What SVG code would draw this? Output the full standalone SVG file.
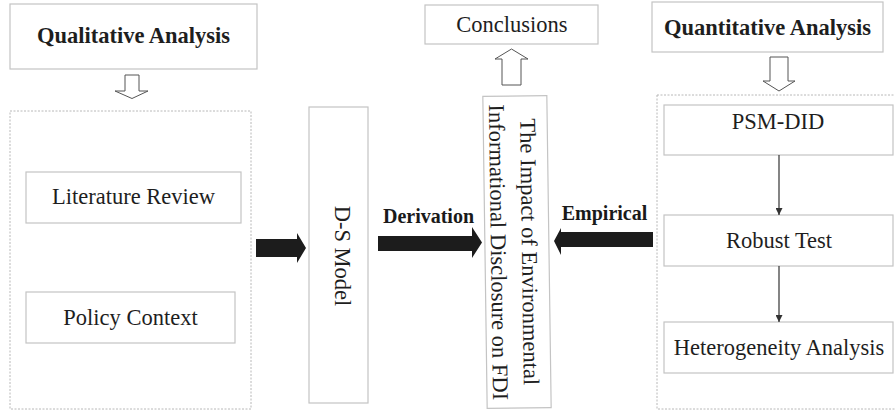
<svg xmlns="http://www.w3.org/2000/svg" width="895" height="412" viewBox="0 0 895 412">
<style>
.box{fill:#fff;stroke:#c4c4c4;stroke-width:1.2}
.cont{fill:none;stroke:#b8b8b8;stroke-width:1;stroke-dasharray:2 1.5}
.t{font-family:'Liberation Serif','Times New Roman',serif;font-size:22.5px;fill:#1e1e1e;text-anchor:middle}
.b{font-weight:bold}
.lbl{font-family:'Liberation Serif','Times New Roman',serif;font-size:20px;font-weight:bold;fill:#1a1a1a;text-anchor:middle}
.hollow{fill:#fff;stroke:#555;stroke-width:1}
.solid{fill:#1c1c1c;stroke:none}
.thin{stroke:#333;stroke-width:1.2;fill:none;marker-end:url(#ah)}
</style>
<defs>
<marker id="ah" viewBox="0 0 10 10" refX="10" refY="5" markerWidth="7" markerHeight="7" markerUnits="userSpaceOnUse" orient="auto">
<path d="M0,0 L10,5 L0,10 Z" fill="#333"/>
</marker>
</defs>
<rect width="895" height="412" fill="#fff"/>

<g id="qualitative-container"><rect class="cont" x="10" y="111" width="241" height="298"/></g>
<g id="quantitative-container"><rect class="cont" x="657" y="95" width="240" height="314"/></g>

<g id="qualitative-analysis">
<rect class="box" x="10" y="4" width="247" height="65"/>
<text class="t b" x="133.5" y="43">Qualitative Analysis</text>
</g>
<g id="literature-review">
<rect class="box" x="26" y="172" width="215" height="51"/>
<text class="t" x="133.5" y="204">Literature Review</text>
</g>
<g id="policy-context">
<rect class="box" x="26" y="292" width="209" height="51"/>
<text class="t" x="130.5" y="325">Policy Context</text>
</g>
<g id="ds-model">
<rect class="box" x="309" y="107" width="59" height="296"/>
<text class="t" transform="translate(335,256) rotate(90)">D-S Model</text>
</g>
<g id="impact">
<g transform="rotate(-0.8 517 252)">
<rect class="box" x="485" y="96" width="64" height="312"/>
<text class="t" transform="translate(522,252) rotate(90)">The Impact of Environmental</text>
<text class="t" transform="translate(491,252) rotate(90)">Informational Disclosure on FDI</text>
</g>
</g>
<g id="conclusions">
<rect class="box" x="425" y="5" width="173" height="39"/>
<text class="t" x="512" y="32">Conclusions</text>
</g>
<g id="quantitative-analysis">
<rect class="box" x="652" y="2" width="231" height="50"/>
<text class="t b" x="767.5" y="35">Quantitative Analysis</text>
</g>
<g id="psm-did">
<rect class="box" x="664" y="105" width="229" height="50"/>
<text class="t" x="778" y="129">PSM-DID</text>
</g>
<g id="robust-test">
<rect class="box" x="664" y="215" width="229" height="51"/>
<text class="t" x="779" y="248">Robust Test</text>
</g>
<g id="heterogeneity">
<rect class="box" x="664" y="322" width="229" height="51"/>
<text class="t" x="779" y="355">Heterogeneity Analysis</text>
</g>

<g id="connectors">
<path class="hollow" d="M125,75 L139,75 L139,91 L148,91 L132,98.5 L115,91 L125,91 Z"/>
<path class="hollow" d="M770,57 L788,57 L788,81 L795,81 L779,91 L763,81 L770,81 Z"/>
<path class="hollow" d="M502,85 L521,85 L521,59 L528,59 L511.5,49 L495,59 L502,59 Z"/>
<path class="solid" d="M256,239 L297,239 L297,233 L306,248 L297,263 L297,257 L256,257 Z"/>
<path class="solid" d="M378,236 L472,236 L472,227 L482,242.5 L472,258 L472,251 L378,251 Z"/>
<path class="solid" d="M653,232 L561,232 L561,228 L554,241 L561,255 L561,247 L653,247 Z"/>
<line class="thin" x1="779" y1="155" x2="779" y2="215"/>
<line class="thin" x1="779" y1="266" x2="779" y2="322"/>
<text class="lbl" x="428.5" y="223">Derivation</text>
<text class="lbl" x="604.5" y="220">Empirical</text>
</g>
</svg>
